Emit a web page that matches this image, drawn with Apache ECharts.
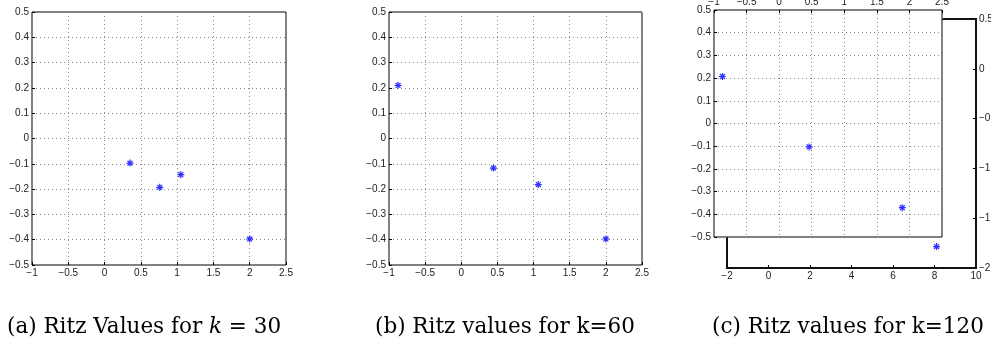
<!DOCTYPE html>
<html>
<head>
<meta charset="utf-8">
<script src="https://cdn.jsdelivr.net/npm/echarts@6/dist/echarts.min.js"></script>
<style>
    html,body{margin:0;padding:0;background:#fff;}
    #main{width:991px;height:345px;}
</style>
</head>
<body>
<div id="main"></div>
<script>
// ritz values, [re, im]
var ritzK30 = [[0.35, -0.097], [0.76, -0.193], [1.05, -0.143], [2.0, -0.397]];
var ritzK60 = [[-0.875, 0.21], [0.445, -0.117], [1.065, -0.182], [2.0, -0.397]];
var ritzK120 = [[-0.87, 0.207], [0.46, -0.103], [1.89, -0.371]];
var ritzK120Outer = [[8.1, -1.785]];

var xRange = [-1, 2.5, 0.5];
var yRange = [-0.5, 0.5, 0.1];
var outerX = [-2, 10, 2];
var outerY = [-2, 0.5, 0.5];

var captions = [
    {x: 7, parts: ['(a) Ritz Values for ', 'k', ' = 30']},
    {x: 375, parts: ['(b) Ritz values for k=60']},
    {x: 712, parts: ['(c) Ritz values for k=120']}
];

(function() {
    var chart = echarts.init(document.getElementById('main'), null, {renderer: 'canvas'});

    var star = 'path://M-0.7,-4 L0.7,-4 L0.7,4 L-0.7,4 Z M-4,-0.7 L4,-0.7 L4,0.7 L-4,0.7 Z ' +
               'M-2.3,-3.3 L3.3,2.3 L2.3,3.3 L-3.3,-2.3 Z M2.3,-3.3 L3.3,-2.3 L-2.3,3.3 L-3.3,2.3 Z';

    function fmt(v) {
        return String(Math.round(v * 1000) / 1000).replace('-', '\u2212');
    }

    var lbl = {fontSize: 10, color: '#222', fontFamily: 'Liberation Sans, Arial, sans-serif', formatter: fmt,
               showMinLabel: true, showMaxLabel: true};

    function axis(idx, r, pos, grid, z, margin) {
        return {
            type: 'value', gridIndex: idx, min: r[0], max: r[1], interval: r[2], position: pos, z: z || 0,
            axisLine: {show: false, onZero: false},
            axisTick: {show: true, inside: true, length: 3, lineStyle: {color: '#000'}},
            axisLabel: Object.assign({margin: margin || 3}, lbl),
            splitLine: {show: !!grid, lineStyle: {color: '#8a8a8a', type: [1, 3], width: 1}}
        };
    }

    function scatter(xi, data, z) {
        return {
            type: 'scatter', xAxisIndex: xi, yAxisIndex: xi, data: data, z: z || 2,
            symbol: star, symbolSize: 7, itemStyle: {color: '#0000ff'}, silent: true, clip: false
        };
    }

    var grids = [
        {left: 32, top: 12, width: 254, height: 253, show: true, borderColor: '#000', borderWidth: 1},
        {left: 389, top: 12, width: 253, height: 253, show: true, borderColor: '#000', borderWidth: 1},
        {left: 714, top: 10, width: 228, height: 227, show: true, borderColor: '#000', borderWidth: 1,
         backgroundColor: '#fff', z: 3},
        {left: 727, top: 19, width: 249, height: 249, show: true, borderColor: '#111', borderWidth: 2, z: 1}
    ];
    grids.forEach(function(g) { g.outerBoundsMode = 'none'; g.containLabel = false; });

    var graphics = captions.map(function(c) {
        var rich = {n: {fontFamily: 'DejaVu Serif, serif', fontSize: 21.5, color: '#000'},
                    i: {fontFamily: 'DejaVu Serif, serif', fontStyle: 'italic', fontSize: 21.5, color: '#000'}};
        var txt = c.parts.map(function(p, k) {
            return (c.parts.length === 3 && k === 1) ? '{i|' + p + '}' : '{n|' + p + '}';
        }).join('');
        return {type: 'text', left: c.x, top: 316, style: {text: txt, rich: rich}};
    });

    chart.setOption({
        animation: false,
        backgroundColor: '#fff',
        grid: grids,
        xAxis: [
            axis(0, xRange, 'bottom', true),
            axis(1, xRange, 'bottom', true),
            axis(2, xRange, 'top', true, 5),
            axis(3, outerX, 'bottom', false)
        ],
        yAxis: [
            axis(0, yRange, 'left', true),
            axis(1, yRange, 'left', true),
            axis(2, yRange, 'left', true, 5),
            axis(3, outerY, 'right', false, 0, 3)
        ],
        series: [
            scatter(0, ritzK30),
            scatter(1, ritzK60),
            scatter(2, ritzK120, 10),
            scatter(3, ritzK120Outer, 10)
        ],
        graphic: graphics
    });
})()
</script>
</body>
</html>
